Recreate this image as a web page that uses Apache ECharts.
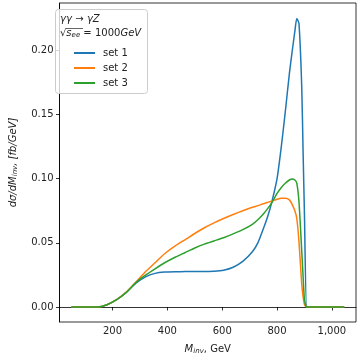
<!DOCTYPE html>
<html>
<head>
<meta charset="utf-8">
<script src="https://cdn.jsdelivr.net/npm/echarts@6/dist/echarts.min.js"></script>
<style>
  html, body { margin: 0; padding: 0; background: #fff; }
  #main { width: 360px; height: 360px; }
</style>
</head>
<body>
<div id="main"></div>
<script>
// invariant mass, GeV
var mInv = [50, 100, 145, 180, 215, 250, 285, 320, 355, 390, 430, 465, 500, 535, 570, 605, 640, 675, 710, 730,
  750, 765, 780, 800, 815, 830, 845, 855, 865, 872, 880, 890, 895, 900, 908, 920, 1045]
// dσ/dM, fb/GeV
var set1 = [0, 0, 0, 0.0018, 0.0057, 0.0113, 0.0185, 0.0235, 0.0262, 0.0272, 0.0275, 0.0276, 0.0276, 0.0277, 0.0279, 0.0287, 0.031, 0.0355, 0.043, 0.050,
  0.061, 0.070, 0.081, 0.100, 0.124, 0.152, 0.182, 0.199, 0.215, 0.225, 0.221, 0.172, 0.121, 0.072, 0, 0, 0]
var set2 = [0, 0, 0, 0.0018, 0.0058, 0.0116, 0.0195, 0.0275, 0.0345, 0.0415, 0.0478, 0.0525, 0.0573, 0.0618, 0.0656, 0.069, 0.0721, 0.075, 0.0777, 0.079,
  0.0805, 0.0815, 0.0825, 0.084, 0.0848, 0.0848, 0.0835, 0.080, 0.075, 0.069, 0.051, 0.018, 0.008, 0.002, 0, 0, 0]
var set3 = [0, 0, 0, 0.0018, 0.0057, 0.0114, 0.019, 0.0248, 0.0298, 0.0345, 0.039, 0.0425, 0.046, 0.049, 0.0515, 0.054, 0.057, 0.0603, 0.0645, 0.068,
  0.0725, 0.0765, 0.081, 0.0885, 0.093, 0.0965, 0.099, 0.0998, 0.099, 0.0965, 0.082, 0.044, 0.024, 0.006, 0, 0, 0]
var seriesNames = ['set 1', 'set 2', 'set 3']
var colors = ['#1f77b4', '#ff7f0e', '#2ca02c']

function pairs(ys) {
  return mInv.map(function (x, i) { return [x, ys[i]] })
}

var chart = echarts.init(document.getElementById('main'))
var font = 'DejaVu Sans'

var option = {
  animation: false,
  color: colors,
  textStyle: { fontFamily: font },
  grid: {
    left: 51, right: 4, top: 3, bottom: 38,
    show: true, borderColor: '#000', borderWidth: 0.8, backgroundColor: 'transparent'
  },
  legend: {
    data: seriesNames,
    z: 20,
    orient: 'vertical',
    left: 74,
    top: 47,
    padding: 0,
    itemWidth: 21,
    itemHeight: 2,
    itemGap: 3,
    icon: 'rect',
    textStyle: { fontFamily: font, fontSize: 10, color: '#222', lineHeight: 12, padding: [0, 0, 0, 3] }
  },
  xAxis: {
    type: 'value',
    min: 6.5,
    max: 1088,
    splitNumber: 5,
    splitLine: { show: false },
    axisLine: { lineStyle: { color: '#000', width: 0.8 } },
    axisTick: { length: 3.5, lineStyle: { color: '#000', width: 0.8 } },
    axisLabel: { showMinLabel: false, showMaxLabel: false, fontSize: 10, color: '#222', margin: 4 },
    name: '{i|M}{sub|inv}{n|, GeV}',
    nameLocation: 'middle',
    nameGap: 22,
    nameTextStyle: {
      rich: {
        i: { fontStyle: 'italic', fontSize: 10, color: '#222', fontFamily: font },
        sub: { fontStyle: 'italic', fontSize: 7, color: '#222', fontFamily: font, padding: [4, 0, 0, 0] },
        n: { fontSize: 10, color: '#222', fontFamily: font }
      }
    }
  },
  yAxis: {
    type: 'value',
    min: -0.0117,
    max: 0.237,
    splitNumber: 5,
    splitLine: { show: false },
    axisLine: { show: true, lineStyle: { color: '#000', width: 0.8 } },
    axisTick: { show: true, length: 3.5, lineStyle: { color: '#000', width: 0.8 } },
    axisLabel: {
      showMinLabel: false, showMaxLabel: false, fontSize: 10, color: '#222', margin: 6,
      formatter: function (v) { return v.toFixed(2) }
    },
    name: '{i|dσ/dM}{sub|inv}{i|, [fb/GeV]}',
    nameLocation: 'middle',
    nameGap: 41,
    nameTextStyle: {
      rich: {
        i: { fontStyle: 'italic', fontSize: 10, color: '#222', fontFamily: font },
        sub: { fontStyle: 'italic', fontSize: 7, color: '#222', fontFamily: font, padding: [4, 0, 0, 0] }
      }
    }
  },
  graphic: [
    {
      type: 'rect',
      z: 10,
      shape: { x: 55.5, y: 9.5, width: 92, height: 84, r: 3 },
      style: { fill: 'rgba(255,255,255,0.8)', stroke: '#ccc', lineWidth: 1 }
    },
    {
      type: 'text',
      z: 11,
      left: 60,
      top: 13,
      style: {
        text: '{i|γγ} {n|→} {i|γZ}',
        rich: {
          i: { fontStyle: 'italic', fontSize: 10, fill: '#222', fontFamily: font },
          n: { fontSize: 10, fill: '#222', fontFamily: font }
        }
      }
    },
    {
      type: 'text',
      z: 11,
      left: 60,
      top: 28,
      style: {
        text: '{n|√}{i|s}{sub|ee}{n| = 1000}{i|GeV}',
        rich: {
          i: { fontStyle: 'italic', fontSize: 10, fill: '#222', fontFamily: font },
          sub: { fontStyle: 'italic', fontSize: 7, fill: '#222', fontFamily: font, padding: [4, 0, 0, 0] },
          n: { fontSize: 10, fill: '#222', fontFamily: font }
        }
      }
    },
    {
      type: 'line',
      z: 11,
      shape: { x1: 66, y1: 28.5, x2: 83, y2: 28.5 },
      style: { stroke: '#222', lineWidth: 0.7 }
    }
  ],
  series: [
    { name: seriesNames[0], type: 'line', data: pairs(set1), showSymbol: false, smooth: 0.2, lineStyle: { width: 1.5 }, z: 3 },
    { name: seriesNames[1], type: 'line', data: pairs(set2), showSymbol: false, smooth: 0.2, lineStyle: { width: 1.5 }, z: 4 },
    { name: seriesNames[2], type: 'line', data: pairs(set3), showSymbol: false, smooth: 0.2, lineStyle: { width: 1.5 }, z: 5 }
  ]
}

chart.setOption(option)
</script>
</body>
</html>
